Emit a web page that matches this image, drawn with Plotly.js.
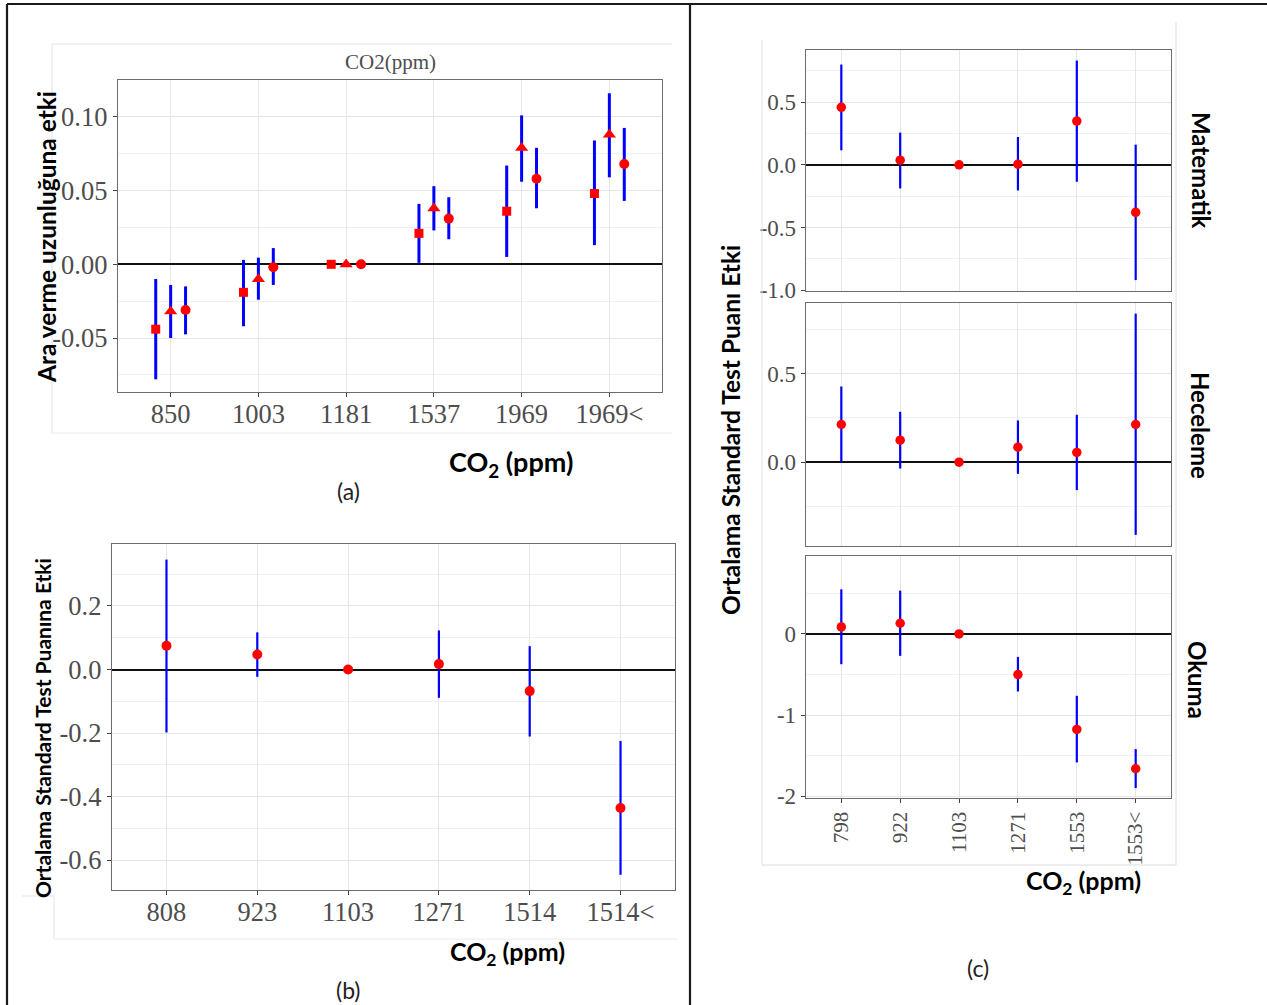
<!DOCTYPE html>
<html>
<head>
<meta charset="utf-8">
<script src="https://cdn.plot.ly/plotly-3.0.1.min.js"></script>
<style>html,body{margin:0;padding:0;background:#fff;}#chart{width:1267px;height:1005px;}</style>
</head>
<body>
<div id="chart"></div>
<script>
// ---------- Panel (a) data ----------
const aCats = ['850', '1003', '1181', '1537', '1969', '1969<'];
const aSquare   = [-0.044, -0.019, 0, 0.021, 0.036, 0.048];
const aSquareLo = [-0.078, -0.042, 0, 0.001, 0.005, 0.013];
const aSquareHi = [-0.010, 0.003, 0, 0.041, 0.067, 0.084];
const aTri      = [-0.032, -0.010, 0, 0.038, 0.079, 0.088];
const aTriLo    = [-0.050, -0.024, 0, 0.023, 0.056, 0.059];
const aTriHi    = [-0.014, 0.0045, 0, 0.053, 0.101, 0.116];
const aCirc     = [-0.031, -0.002, 0, 0.031, 0.058, 0.068];
const aCircLo   = [-0.0475, -0.014, 0, 0.017, 0.038, 0.043];
const aCircHi   = [-0.015, 0.011, 0, 0.0455, 0.079, 0.0925];
const aYTickVals = [-0.05, 0, 0.05, 0.10];
const aYTickText = ['-0.05', '0.00', '0.05', '0.10'];

// ---------- Panel (b) data ----------
const bCats = ['808', '923', '1103', '1271', '1514', '1514<'];
const bVal = [0.075, 0.047, 0, 0.017, -0.068, -0.436];
const bLo  = [-0.198, -0.023, 0, -0.089, -0.211, -0.646];
const bHi  = [0.346, 0.117, 0, 0.123, 0.0735, -0.225];
const bYTickVals = [-0.6, -0.4, -0.2, 0, 0.2];
const bYTickText = ['-0.6', '-0.4', '-0.2', '0.0', '0.2'];

// ---------- Panel (c) data ----------
const cCats = ['798', '922', '1103', '1271', '1553', '1553<'];
const facetNames = ['Matematik', 'Heceleme', 'Okuma'];
const matVal = [0.458, 0.037, 0, 0.005, 0.349, -0.378];
const matLo  = [0.116, -0.188, 0, -0.204, -0.135, -0.918];
const matHi  = [0.799, 0.257, 0, 0.222, 0.831, 0.161];
const hecVal = [0.213, 0.1245, 0, 0.085, 0.055, 0.213];
const hecLo  = [0.0, -0.036, 0, -0.066, -0.158, -0.411];
const hecHi  = [0.428, 0.285, 0, 0.236, 0.268, 0.84];
const okuVal = [0.086, 0.131, 0, -0.5, -1.176, -1.66];
const okuLo  = [-0.373, -0.27, 0, -0.709, -1.582, -1.898];
const okuHi  = [0.549, 0.533, 0, -0.283, -0.762, -1.418];
const matYTickVals = [-1.0, -0.5, 0, 0.5];
const matYTickText = ['-1.0', '-0.5', '0.0', '0.5'];
const hecYTickVals = [0, 0.5];
const hecYTickText = ['0.0', '0.5'];
const okuYTickVals = [-2, -1, 0];
const okuYTickText = ['-2', '-1', '0'];

// ---------- helpers ----------
const W = 1267, H = 1005;
const PX = p => p / W;
const PY = p => 1 - p / H;
const RED = '#ff0000', BLUE = '#0000ff';
const SERIF = 'Liberation Serif, Times New Roman, serif';
const SANS = 'Lato, Open Sans, sans-serif';
const TICKGRAY = '#4d4d4d';

function trace(cats, vals, lo, hi, offset, xa, ya, symbol, size, thick) {
  return {
    type: 'scatter', mode: 'markers',
    x: cats.map((c, i) => i + 1 + offset),
    y: vals,
    xaxis: xa, yaxis: ya,
    marker: {color: RED, symbol: symbol, size: size, line: {width: 0}},
    error_y: {type: 'data', symmetric: false,
      array: hi.map((h, i) => h - vals[i]),
      arrayminus: lo.map((l, i) => vals[i] - l),
      color: BLUE, thickness: thick, width: 0},
    showlegend: false, hoverinfo: 'x+y'
  };
}

const dodge = 0.17;
const data = [
  trace(aCats, aSquare, aSquareLo, aSquareHi, -dodge, 'x', 'y', 'square', 9, 3),
  trace(aCats, aTri, aTriLo, aTriHi, 0, 'x', 'y', 'triangle-up', 11.5, 3),
  trace(aCats, aCirc, aCircLo, aCircHi, dodge, 'x', 'y', 'circle', 10, 3),
  trace(bCats, bVal, bLo, bHi, 0, 'x2', 'y2', 'circle', 10, 2.2),
  trace(cCats, matVal, matLo, matHi, 0, 'x3', 'y3', 'circle', 9.5, 2.2),
  trace(cCats, hecVal, hecLo, hecHi, 0, 'x4', 'y4', 'circle', 9.5, 2.2),
  trace(cCats, okuVal, okuLo, okuHi, 0, 'x5', 'y5', 'circle', 9.5, 2.2)
];

function xAxis(cats, dom, anchor, opts) {
  return Object.assign({
    domain: dom, anchor: anchor, range: [0.4, 6.6],
    tickmode: 'array', tickvals: cats.map((c, i) => i + 1), ticktext: cats,
    showgrid: true, gridcolor: '#e6e6e6', gridwidth: 1,
    zeroline: false, showline: true, mirror: true, linecolor: '#6b6b6b', linewidth: 1.3,
    ticks: 'outside', ticklen: 4, tickcolor: '#444', tickwidth: 1,
    ticklabelstandoff: -6,
    tickfont: {family: SERIF, size: 26.5, color: TICKGRAY}, fixedrange: true
  }, opts || {});
}
function yAxis(range, tv, tt, minorD, dom, anchor, opts) {
  return Object.assign({
    domain: dom, anchor: anchor, range: range,
    tickmode: 'array', tickvals: tv, ticktext: tt,
    showgrid: true, gridcolor: '#e6e6e6', gridwidth: 1,
    minor: {tick0: 0, dtick: minorD, showgrid: true, gridcolor: '#f1f1f1', gridwidth: 1, ticks: ''},
    zeroline: true, zerolinecolor: '#111', zerolinewidth: 2,
    showline: true, mirror: true, linecolor: '#6b6b6b', linewidth: 1.3,
    ticks: 'outside', ticklen: 4, tickcolor: '#444', tickwidth: 1,
    tickfont: {family: SERIF, size: 26.5, color: TICKGRAY}, fixedrange: true
  }, opts || {});
}

const cTick = {family: SERIF, size: 23, color: TICKGRAY};
const cX = [PX(806), PX(1171)];
const layout = {
  width: W, height: H, autosize: false,
  margin: {l: 0, r: 0, t: 0, b: 0},
  paper_bgcolor: '#fff', plot_bgcolor: '#fff',
  showlegend: false,
  xaxis: xAxis(aCats, [PX(118), PX(662)], 'y'),
  yaxis: yAxis([-0.0866, 0.125], aYTickVals, aYTickText, 0.025, [PY(392), PY(80)], 'x'),
  xaxis2: xAxis(bCats, [PX(112), PX(675)], 'y2'),
  yaxis2: yAxis([-0.694, 0.395], bYTickVals, bYTickText, 0.1, [PY(890), PY(544)], 'x2'),
  xaxis3: xAxis(cCats, cX, 'y3', {showticklabels: false, ticks: ''}),
  yaxis3: yAxis([-1.005, 0.915], matYTickVals, matYTickText, 0.25, [PY(291), PY(50)], 'x3', {tickfont: cTick}),
  xaxis4: xAxis(cCats, cX, 'y4', {showticklabels: false, ticks: ''}),
  yaxis4: yAxis([-0.474, 0.9], hecYTickVals, hecYTickText, 0.25, [PY(546), PY(303)], 'x4', {tickfont: cTick}),
  xaxis5: xAxis(cCats, cX, 'y5', {tickangle: -90, ticklabelstandoff: 0, tickfont: {family: SERIF, size: 21, color: TICKGRAY}}),
  yaxis5: yAxis([-2.02, 0.959], okuYTickVals, okuYTickText, 0.5, [PY(798), PY(556)], 'x5', {tickfont: cTick}),
  shapes: [
    // figure frame
    {type: 'line', xref: 'paper', yref: 'paper', x0: PX(7), x1: PX(1267), y0: PY(4), y1: PY(4), line: {color: '#1a1a1a', width: 2}},
    {type: 'line', xref: 'paper', yref: 'paper', x0: PX(7), x1: PX(7), y0: PY(4), y1: PY(1005), line: {color: '#1a1a1a', width: 2.2}},
    {type: 'line', xref: 'paper', yref: 'paper', x0: PX(690), x1: PX(690), y0: PY(4), y1: PY(1005), line: {color: '#1a1a1a', width: 2.2}},
    // faint borders of pasted images
    {type: 'line', xref: 'paper', yref: 'paper', x0: PX(52), x1: PX(672), y0: PY(44), y1: PY(44), line: {color: '#e3e3e3', width: 1}},
    {type: 'line', xref: 'paper', yref: 'paper', x0: PX(52), x1: PX(52), y0: PY(44), y1: PY(433), line: {color: '#e3e3e3', width: 1}},
    {type: 'line', xref: 'paper', yref: 'paper', x0: PX(52), x1: PX(672), y0: PY(433), y1: PY(433), line: {color: '#ececec', width: 1}},
    {type: 'line', xref: 'paper', yref: 'paper', x0: PX(22), x1: PX(54), y0: PY(896), y1: PY(896), line: {color: '#e3e3e3', width: 1}},
    {type: 'line', xref: 'paper', yref: 'paper', x0: PX(54), x1: PX(54), y0: PY(896), y1: PY(939), line: {color: '#e3e3e3', width: 1}},
    {type: 'line', xref: 'paper', yref: 'paper', x0: PX(54), x1: PX(678), y0: PY(939), y1: PY(939), line: {color: '#ececec', width: 1}},
    {type: 'line', xref: 'paper', yref: 'paper', x0: PX(762), x1: PX(762), y0: PY(40), y1: PY(865), line: {color: '#e3e3e3', width: 1}},
    {type: 'line', xref: 'paper', yref: 'paper', x0: PX(1176), x1: PX(1176), y0: PY(22), y1: PY(865), line: {color: '#dcdcdc', width: 1}},
    {type: 'line', xref: 'paper', yref: 'paper', x0: PX(762), x1: PX(1176), y0: PY(865), y1: PY(865), line: {color: '#dcdcdc', width: 1}}
  ],
  annotations: [
    {text: 'CO2(ppm)', x: PX(390), y: PY(62), font: {family: SERIF, size: 21, color: '#4d4d4d'}},
    {text: 'Ara verme uzunluğuna etki', x: PX(46), y: PY(237), textangle: -90, font: {family: SANS, size: 24.5, color: '#000', weight: 'bold'}},
    {text: 'CO<sub>2</sub> (ppm)', x: PX(511), y: PY(463), font: {family: SANS, size: 27, color: '#000', weight: 'bold'}},
    {text: '(a)', x: PX(348), y: PY(491), font: {family: SANS, size: 23, color: '#222'}},
    {text: 'Ortalama Standard Test Puanına Etki', x: PX(42), y: PY(728), textangle: -90, font: {family: SANS, size: 21, color: '#000', weight: 'bold'}},
    {text: 'CO<sub>2</sub> (ppm)', x: PX(507), y: PY(953), font: {family: SANS, size: 25, color: '#000', weight: 'bold'}},
    {text: '(b)', x: PX(348), y: PY(990), font: {family: SANS, size: 23, color: '#222'}},
    {text: 'Ortalama Standard Test Puanı Etki', x: PX(730), y: PY(430), textangle: -90, font: {family: SANS, size: 24.5, color: '#000', weight: 'bold'}},
    {text: facetNames[0], x: PX(1202), y: PY(170), textangle: 90, font: {family: SANS, size: 24, color: '#000', weight: 'bold'}},
    {text: facetNames[1], x: PX(1200), y: PY(425), textangle: 90, font: {family: SANS, size: 24, color: '#000', weight: 'bold'}},
    {text: facetNames[2], x: PX(1198), y: PY(680), textangle: 90, font: {family: SANS, size: 24, color: '#000', weight: 'bold'}},
    {text: 'CO<sub>2</sub> (ppm)', x: PX(1083), y: PY(882), font: {family: SANS, size: 25, color: '#000', weight: 'bold'}},
    {text: '(c)', x: PX(978), y: PY(968), font: {family: SANS, size: 23, color: '#222'}}
  ].map(a => Object.assign({xref: 'paper', yref: 'paper', showarrow: false, xanchor: 'center', yanchor: 'middle'}, a))
};

Plotly.newPlot('chart', data, layout, {displayModeBar: false, staticPlot: true});
</script>
</body>
</html>
